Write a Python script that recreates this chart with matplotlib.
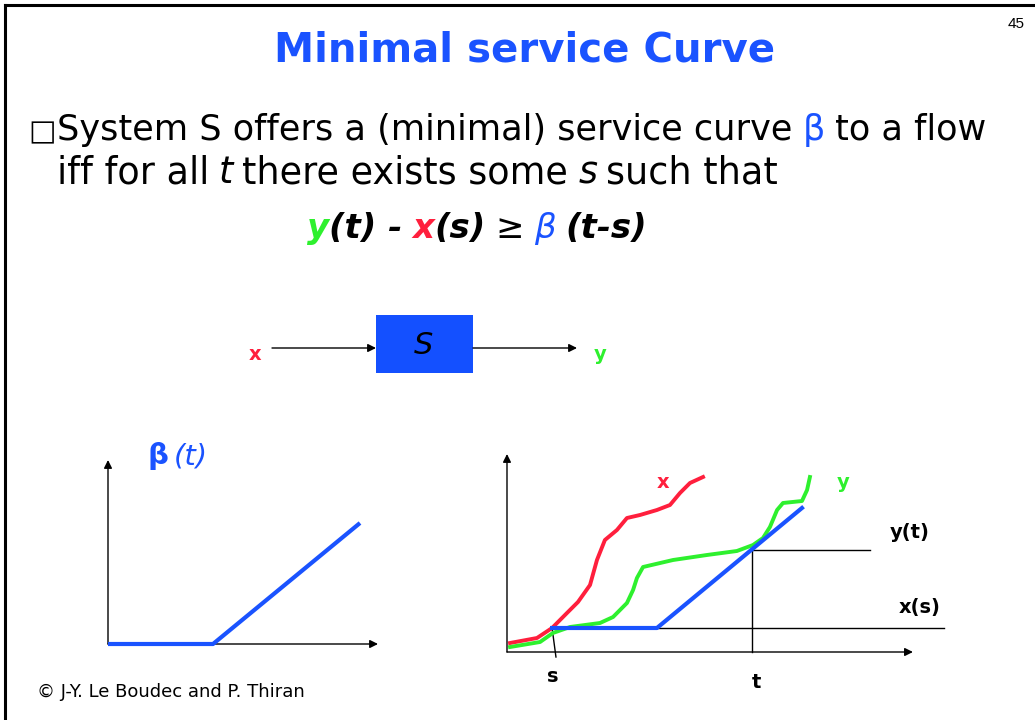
import matplotlib
matplotlib.use("Agg")
from matplotlib import pyplot as plt
from matplotlib.patches import Rectangle
import numpy as np

# couleurs de la diapo
BLUE = '#1a53ff'
RED = '#ff1f3d'
GREEN = '#2ef02e'

# arrivées x (temps, quantité)
x_t = [0.15, 1.47, 2.21, 2.94, 3.48, 4.07, 4.41, 4.80, 5.39, 5.88, 6.52, 7.35, 7.99, 8.48, 8.97, 9.61]
x_v = [0.45, 0.70, 1.20, 1.95, 2.50, 3.35, 4.60, 5.60, 6.10, 6.70, 6.85, 7.10, 7.35, 7.95, 8.45, 8.75]
# départs y
y_t = [0.15, 1.62, 2.25, 3.09, 4.56, 5.20, 5.88, 6.18, 6.37, 6.67, 8.14, 9.80, 11.27,
       12.06, 12.55, 12.89, 13.24, 13.53, 14.46, 14.71, 14.85]
y_v = [0.25, 0.50, 0.95, 1.25, 1.45, 1.75, 2.45, 3.10, 3.70, 4.25, 4.60, 4.85, 5.05,
       5.35, 5.70, 6.25, 7.10, 7.45, 7.55, 8.10, 8.75]
# courbe de service beta (graphe de droite, décalée en s)
b_t = [2.21, 7.35, 14.46]
b_v = [1.20, 1.20, 7.20]
s_val, t_val = 2.21, 12.0
# beta(t) seule (graphe de gauche)
beta_t = [0.0, 5.25, 12.6]
beta_v = [0.0, 0.0, 6.05]

W, H = 1035, 720
fig = plt.figure(figsize=(W / 100, H / 100), dpi=100)
bg = fig.add_axes([0, 0, 1, 1])
bg.set_xlim(0, W)
bg.set_ylim(H, 0)
bg.axis('off')

# cadre de la diapo
bg.plot([5, 5], [H, 5], color='black', lw=2.2, solid_capstyle='projecting')
bg.plot([5, W], [5, 5], color='black', lw=2.2, solid_capstyle='projecting')

bg.text(1025, 28, '45', fontsize=11, ha='right', va='baseline', family='Liberation Sans')
bg.text(525, 62, 'Minimal service Curve', fontsize=29, weight='bold', color=BLUE,
        ha='center', va='baseline')

renderer = fig.canvas.get_renderer()


def runs(x0, y, parts, size):
    # place des morceaux de texte les uns après les autres sur la même ligne
    x = x0
    for txt, color, style, weight, gap in parts:
        x += gap
        t = bg.text(x, y, txt, color=color, fontsize=size, style=style, weight=weight,
                    ha='left', va='baseline')
        x += t.get_window_extent(renderer).width
    return x


bg.text(28, 140, '□', fontsize=21, ha='left', va='baseline')
sp = 10
runs(57, 140, [('System S offers a (minimal) service curve', 'black', 'normal', 'normal', 0),
               ('β', BLUE, 'normal', 'normal', sp),
               ('to a flow', 'black', 'normal', 'normal', sp)], 25.3)
runs(57, 183, [('iff for all', 'black', 'normal', 'normal', 0),
               ('t', 'black', 'italic', 'normal', 9),
               ('there exists some', 'black', 'normal', 'normal', 10),
               ('s', 'black', 'italic', 'normal', 10),
               ('such that', 'black', 'normal', 'normal', 9)], 26.3)
runs(307, 238, [('y', GREEN, 'italic', 'bold', 0),
                ('(t) -', 'black', 'italic', 'bold', 0),
                ('x', RED, 'italic', 'bold', sp),
                ('(s)', 'black', 'italic', 'bold', 0),
                ('≥', 'black', 'normal', 'normal', sp),
                ('β', BLUE, 'italic', 'normal', sp),
                ('(t-s)', 'black', 'italic', 'bold', sp)], 24.5)

# schéma bloc x -> S -> y
bg.add_patch(Rectangle((376, 315), 97, 58, facecolor='#1450ff', edgecolor='none'))
bg.text(424, 346, 'S', fontsize=22, style='italic', ha='center', va='center')
arrow = dict(arrowstyle='-|>', color='black', lw=1, mutation_scale=12, shrinkA=0, shrinkB=0)
bg.annotate('', xy=(376, 348), xytext=(272, 348), arrowprops=arrow)
bg.annotate('', xy=(577, 348), xytext=(473, 348), arrowprops=arrow)
bg.text(255, 355, 'x', fontsize=14, weight='bold', color=RED, ha='center', va='center')
bg.text(600, 355, 'y', fontsize=14, weight='bold', color=GREEN, ha='center', va='center')

bg.text(37, 697, '© J-Y. Le Boudec and P. Thiran', fontsize=13, ha='left', va='baseline')


def panel(left, top, width, height, xlim, ylim):
    ax = fig.add_axes([left / W, 1 - (top + height) / H, width / W, height / H])
    ax.set_xlim(*xlim)
    ax.set_ylim(*ylim)
    ax.axis('off')
    return ax


# graphe de gauche : beta(t)
axl = panel(98, 450, 292, 205, (-0.5, 14.1), (-0.55, 9.7))
axl.annotate('', xy=(0, 9.2), xytext=(0, 0), arrowprops=arrow)
axl.annotate('', xy=(13.5, 0), xytext=(0, 0), arrowprops=arrow)
axl.plot(beta_t, beta_v, color=BLUE, lw=3, solid_capstyle='butt', zorder=5)
axl.text(2.0, 9.0, 'β', fontsize=21, color=BLUE, weight='bold', va='baseline', ha='left')
axl.text(3.3, 9.0, '(t)', fontsize=21, color=BLUE, style='italic', va='baseline', ha='left')

# graphe de droite : x, y et beta décalée
axr = panel(497, 440, 460, 260, (-0.49, 22.06), (-2.4, 10.6))
axr.annotate('', xy=(0, 9.9), xytext=(0, 0), arrowprops=arrow)
axr.annotate('', xy=(19.9, 0), xytext=(0, 0), arrowprops=arrow)
y_at_t = np.interp(t_val, b_t, b_v)
axr.plot([t_val, 17.8], [y_at_t, y_at_t], color='black', lw=1)
axr.plot([t_val, t_val], [0, y_at_t], color='black', lw=1)
axr.plot([s_val, 21.4], [b_v[0], b_v[0]], color='black', lw=1)
axr.plot([s_val, 2.4], [b_v[0], -0.25], color='black', lw=1)
axr.plot(x_t, x_v, color=RED, lw=2.8)
axr.plot(y_t, y_v, color=GREEN, lw=2.8)
axr.plot(b_t, b_v, color=BLUE, lw=3)
axr.text(7.65, 8.45, 'x', fontsize=14, weight='bold', color=RED, ha='center', va='center')
axr.text(16.5, 8.45, 'y', fontsize=14, weight='bold', color=GREEN, ha='center', va='center')
axr.text(19.75, 5.95, 'y(t)', fontsize=14, weight='bold', ha='center', va='center')
axr.text(20.25, 2.25, 'x(s)', fontsize=14, weight='bold', ha='center', va='center')
axr.text(2.25, -1.25, 's', fontsize=14, weight='bold', ha='center', va='center')
axr.text(12.25, -1.55, 't', fontsize=14, weight='bold', ha='center', va='center')

fig.savefig('out.png', dpi=100)
